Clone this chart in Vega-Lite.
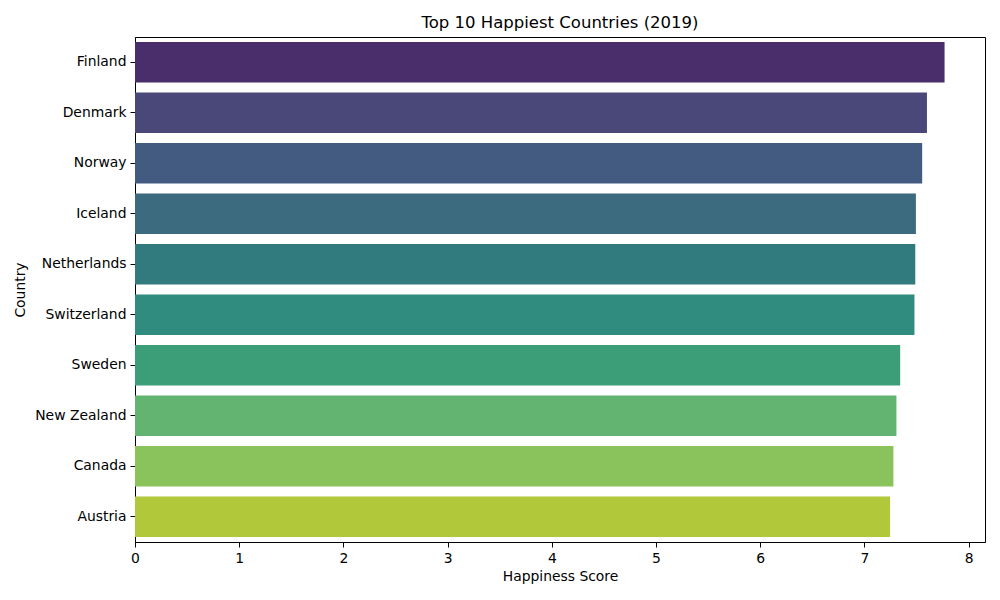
{
  "$schema": "https://vega.github.io/schema/vega-lite/v6.json",
  "autosize": "none",
  "width": 850,
  "height": 505,
  "padding": {"left": 135, "top": 37, "right": 15, "bottom": 58},
  "background": "white",
  "title": {"text": "Top 10 Happiest Countries (2019)", "font": "DejaVu Sans", "fontSize": 16.5, "fontWeight": "normal", "color": "black", "offset": 6},
  "config": {
    "view": {"stroke": "black", "strokeWidth": 1},
    "axis": {
      "labelFont": "DejaVu Sans", "labelFontSize": 13.9, "labelColor": "black", "labelFlush": false,
      "titleFont": "DejaVu Sans", "titleFontSize": 13.9, "titleFontWeight": "normal", "titleColor": "black",
      "domainColor": "black", "tickColor": "black", "tickSize": 5, "grid": false
    }
  },
  "data": {
    "values": [
      {"Country": "Finland", "Score": 7.769, "c": "#4a2d6b"},
      {"Country": "Denmark", "Score": 7.600, "c": "#4a4878"},
      {"Country": "Norway", "Score": 7.554, "c": "#435b80"},
      {"Country": "Iceland", "Score": 7.494, "c": "#3c6b80"},
      {"Country": "Netherlands", "Score": 7.488, "c": "#317b7e"},
      {"Country": "Switzerland", "Score": 7.480, "c": "#2f8c7f"},
      {"Country": "Sweden", "Score": 7.343, "c": "#3c9e78"},
      {"Country": "New Zealand", "Score": 7.307, "c": "#62b470"},
      {"Country": "Canada", "Score": 7.278, "c": "#8ac25c"},
      {"Country": "Austria", "Score": 7.246, "c": "#b0c83a"}
    ]
  },
  "mark": {"type": "bar"},
  "encoding": {
    "y": {
      "field": "Country", "type": "nominal", "sort": null, "title": "Country",
      "scale": {"paddingInner": 0.2, "paddingOuter": 0.1},
      "axis": {"labelPadding": 4, "titlePadding": 7}
    },
    "x": {
      "field": "Score", "type": "quantitative", "title": "Happiness Score",
      "scale": {"domain": [0, 8.157], "nice": false},
      "axis": {"values": [0, 1, 2, 3, 4, 5, 6, 7, 8], "format": "d", "labelPadding": 4, "titlePadding": 5}
    },
    "color": {"field": "c", "type": "nominal", "scale": null, "legend": null}
  }
}
